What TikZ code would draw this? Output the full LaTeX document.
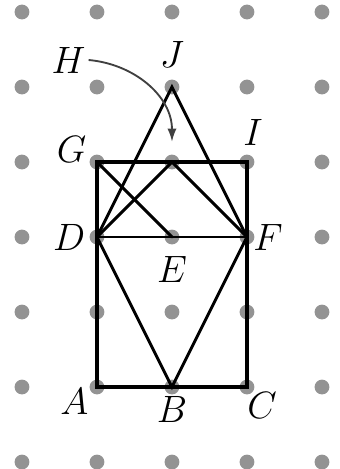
\documentclass[tikz,border=0pt]{standalone}
\usetikzlibrary{arrows.meta}
\begin{document}
\begin{tikzpicture}[x=75pt/2.646,y=75pt/2.646,
  griddot/.style={circle,fill=gray!85,inner sep=0pt,minimum size=5.6pt},
  lab/.style={inner sep=1pt,font=\fontsize{15}{17}\selectfont},
  frame/.style={line width=1.5pt,line join=miter},
  seg/.style={line width=1.1pt,line cap=round}]
\useasboundingbox (-1.293,-1.093) rectangle (3.24,5.16);
% grid of dots
\foreach \i in {-1,...,3}{\foreach \j in {-1,...,5}{\node[griddot] at (\i,\j) {};}}
% points
\coordinate (A) at (0,0);
\coordinate (B) at (1,0);
\coordinate (C) at (2,0);
\coordinate (D) at (0,2);
\coordinate (E) at (1,2);
\coordinate (F) at (2,2);
\coordinate (G) at (0,3);
\coordinate (H) at (1,3);
\coordinate (I) at (2,3);
\coordinate (J) at (1,4);
\coordinate (Htip) at (1,3.27);
% lines
\draw[seg] (D) -- (J) -- (F);
\draw[seg] (D) -- (H) -- (F);
\draw[seg] (G) -- (E);
\draw[seg] (D) -- (F);
\draw[seg] (D) -- (B) -- (F);
\draw[frame] (A) -- (C) -- (I) -- (G) -- cycle;
% labels
\node[lab] (lH) at (-0.38,4.36) {$H$};
\node[lab] (lJ) at (1,4.43) {$J$};
\node[lab] (lG) at (-0.34,3.17) {$G$};
\node[lab] (lI) at (2.08,3.39) {$I$};
\node[lab] (lD) at (-0.37,2) {$D$};
\node[lab] (lF) at (2.28,2) {$F$};
\node[lab] (lE) at (1,1.57) {$E$};
\node[lab] (lA) at (-0.3,-0.19) {$A$};
\node[lab] (lB) at (1,-0.3) {$B$};
\node[lab] (lC) at (2.2,-0.25) {$C$};
% arrow
\draw[line width=0.7pt,black!75,-{Latex[length=5pt,width=3.5pt]}] (lH.east) to[out=-5,in=90] (Htip);
\end{tikzpicture}
\end{document}
